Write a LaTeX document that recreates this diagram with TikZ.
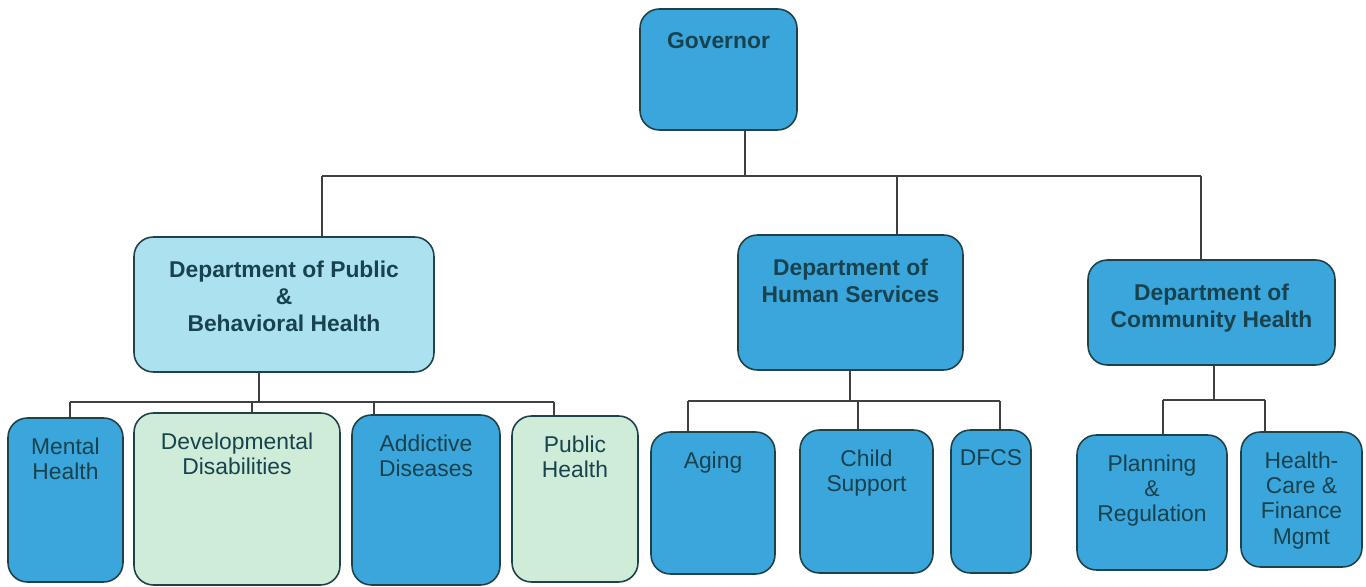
\documentclass[tikz,border=0pt]{standalone}
\usepackage{fontspec}
\setmainfont{Liberation Sans}
\usetikzlibrary{positioning}
\definecolor{unit blue}{RGB}{58,166,220}
\definecolor{unit cyan}{RGB}{172,226,240}
\definecolor{unit green}{RGB}{206,236,216}
\definecolor{unit edge}{RGB}{30,66,72}
\definecolor{unit text}{RGB}{24,66,78}
\tikzset{
  unit/.style={draw=unit edge, line width=0.9pt, rounded corners=11pt, inner sep=0pt},
  blueunit/.style={unit, fill=unit blue},
  cyanunit/.style={unit, fill=unit cyan},
  greenunit/.style={unit, fill=unit green},
  caption/.style={anchor=north, yshift=-8pt, align=center, text=unit text,
    font=\fontsize{13}{14.5}\selectfont},
  deptcaption/.style={caption, yshift=-2.5pt, font=\fontsize{13}{15.3}\selectfont\bfseries},
  link/.style={draw=black!75, line width=0.6pt}
}

\begin{document}
\begin{tikzpicture}[x=0.02cm, y=-0.02cm]
    \useasboundingbox (0,0) rectangle (1366,587);
    % top
    \node[blueunit, minimum width=3.14cm, minimum height=2.42cm,
          label={[deptcaption]north:Governor}] (gov) at (718.5,69.5) {};
    % departments
    \node[cyanunit, minimum width=6.0cm, minimum height=2.7cm,
          label={[deptcaption]north:Department of Public\\\&\\Behavioral Health}] (dpbh) at (284,304.5) {};
    \node[blueunit, minimum width=4.5cm, minimum height=2.7cm,
          label={[deptcaption]north:Department of\\Human Services}] (dhs) at (850.5,302.5) {};
    \node[blueunit, minimum width=4.94cm, minimum height=2.1cm,
          label={[deptcaption]north:Department of\\Community Health}] (dch) at (1211.5,312.5) {};
    % divisions
    \node[blueunit, minimum width=2.3cm, minimum height=3.28cm,
          label={[caption]north:Mental\\Health}] (mh) at (65.5,500) {};
    \node[greenunit, minimum width=4.12cm, minimum height=3.44cm,
          label={[caption]north:Developmental\\Disabilities}] (dd) at (237,499) {};
    \node[blueunit, minimum width=2.96cm, minimum height=3.4cm,
          label={[caption]north:Addictive\\Diseases}] (ad) at (426,500) {};
    \node[greenunit, minimum width=2.52cm, minimum height=3.32cm,
          label={[caption]north:Public\\Health}] (ph) at (575,499) {};
    \node[blueunit, minimum width=2.48cm, minimum height=2.84cm,
          label={[caption]north:Aging}] (aging) at (713,503) {};
    \node[blueunit, minimum width=2.66cm, minimum height=2.86cm,
          label={[caption]north:Child\\Support}] (cs) at (866.5,501.5) {};
    \node[blueunit, minimum width=1.6cm, minimum height=2.86cm,
          label={[caption]north:DFCS}] (dfcs) at (991,501.5) {};
    \node[blueunit, minimum width=3.0cm, minimum height=2.7cm,
          label={[caption]north:Planning\\\&\\Regulation}] (pr) at (1152,502.5) {};
    \node[blueunit, minimum width=2.42cm, minimum height=2.7cm,
          label={[caption]north:Health-\\Care \&\\Finance\\Mgmt}] (hc) at (1301.5,499.5) {};

    % governor to departments
    \coordinate (gbus) at (745,176);
    \coordinate (gbusL) at (322,176);
    \coordinate (gbusR) at (1201,176);
    \draw[link] (gov.south -| gbus) -- (gbus);
    \draw[link] (gbusL) -- (gbusR);
    \draw[link] (gbusL) -- (gbusL |- dpbh.north);
    \coordinate (gbusH) at (897,176);
    \draw[link] (gbusH) -- (gbusH |- dhs.north);
    \draw[link] (gbusR) -- (gbusR |- dch.north);

    % departments to divisions
    \coordinate (pbus) at (259,402);
    \draw[link] (dpbh.south -| pbus) -- (pbus);
    \draw[link] (70,402) -- (554,402);
    \foreach \n/\x in {mh/70, dd/252, ad/374, ph/554} {
        \coordinate (d-\n) at (\x,402);
        \draw[link] (d-\n) -- (d-\n |- \n.north);
    }
    \coordinate (hbus) at (850,401);
    \draw[link] (dhs.south -| hbus) -- (hbus);
    \draw[link] (688,401) -- (1000,401);
    \foreach \n/\x in {aging/688, cs/858, dfcs/1000} {
        \coordinate (d-\n) at (\x,401);
        \draw[link] (d-\n) -- (d-\n |- \n.north);
    }
    \coordinate (cbus) at (1214,400);
    \draw[link] (dch.south -| cbus) -- (cbus);
    \draw[link] (1163,400) -- (1265,400);
    \foreach \n/\x in {pr/1163, hc/1265} {
        \coordinate (d-\n) at (\x,400);
        \draw[link] (d-\n) -- (d-\n |- \n.north);
    }
\end{tikzpicture}
\end{document}
